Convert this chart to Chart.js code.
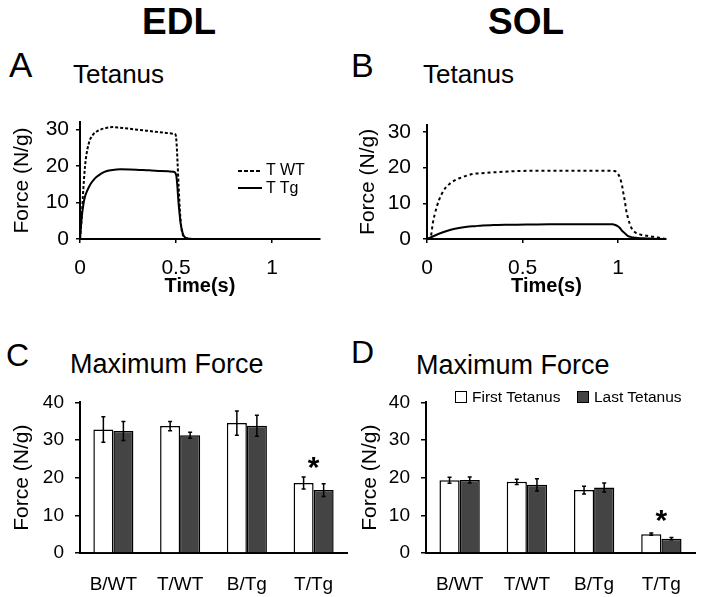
<!DOCTYPE html>
<html>
<head>
<meta charset="utf-8">
<script src="https://cdn.jsdelivr.net/npm/chart.js@4"></script>
<style>
  body { margin: 0; background: #fff; }
  #page { position: relative; width: 704px; height: 597px; overflow: hidden; font-family: 'Liberation Sans', Arial, sans-serif; color: #000; }
  .t { position: absolute; line-height: 1; white-space: nowrap; }
  canvas { position: absolute; }
</style>
</head>
<body>
<div id="page">
  <div class="t" style="left:179px;top:3px;font-size:37px;font-weight:bold;transform:translateX(-50%)">EDL</div>
  <div class="t" style="left:526px;top:3px;font-size:37px;font-weight:bold;transform:translateX(-50%)">SOL</div>

  <div class="t" style="left:9px;top:47px;font-size:35px">A</div>
  <div class="t" style="left:73px;top:61px;font-size:26px">Tetanus</div>
  <div class="t" style="left:351px;top:48px;font-size:34px">B</div>
  <div class="t" style="left:423px;top:61px;font-size:26px">Tetanus</div>
  <div class="t" style="left:6px;top:339px;font-size:32px">C</div>
  <div class="t" style="left:70px;top:351px;font-size:27px">Maximum Force</div>
  <div class="t" style="left:351px;top:336px;font-size:32px">D</div>
  <div class="t" style="left:416px;top:352px;font-size:27px">Maximum Force</div>

  <canvas id="chartA" width="340" height="200" style="left:0;top:100px"></canvas>
  <canvas id="chartB" width="354" height="200" style="left:350px;top:100px"></canvas>
  <canvas id="chartC" width="350" height="217" style="left:0;top:380px"></canvas>
  <canvas id="chartD" width="354" height="217" style="left:350px;top:380px"></canvas>

  <!-- legend, panel A -->
  <svg style="position:absolute;left:238px;top:165px" width="26" height="30">
    <line x1="0" y1="6" x2="24" y2="6" stroke="#000" stroke-width="2" stroke-dasharray="4,2"/>
    <line x1="0" y1="23" x2="24" y2="23" stroke="#000" stroke-width="2"/>
  </svg>
  <div class="t" style="left:266px;top:162px;font-size:16px">T WT</div>
  <div class="t" style="left:266px;top:180px;font-size:16px">T Tg</div>

  <!-- legend, panel D -->
  <div style="position:absolute;left:455px;top:391px;width:10px;height:10px;border:1.5px solid #000;background:#fff"></div>
  <div class="t" style="left:472px;top:389px;font-size:15.5px">First Tetanus</div>
  <div style="position:absolute;left:577px;top:391px;width:10px;height:10px;border:1.5px solid #000;background:#444"></div>
  <div class="t" style="left:594px;top:389px;font-size:15.5px">Last Tetanus</div>
</div>

<script>
Chart.defaults.font.family = "'Liberation Sans', Arial, sans-serif";
Chart.defaults.color = '#000';

// ---- tetanus traces (time in s, force in N/g) ----
const edlTimeWT = [0, 0.009, 0.017, 0.026, 0.035, 0.045, 0.055, 0.07, 0.087, 0.11, 0.14, 0.17, 0.2, 0.25, 0.3, 0.35, 0.4, 0.45, 0.486, 0.498, 0.503, 0.508, 0.514, 0.52, 0.526, 0.532, 0.54, 0.55, 0.6, 0.8, 1.0, 1.25];
const edlForceWT = [0, 6, 13.4, 19.8, 23.5, 26, 27.5, 28.7, 29.4, 30, 30.4, 30.6, 30.5, 30.2, 29.9, 29.6, 29.3, 29.0, 28.8, 28.5, 26.2, 21, 14, 8, 4, 1.8, 0.6, 0.2, 0, 0, 0, 0];
const edlTimeTg = [0, 0.005, 0.009, 0.017, 0.026, 0.04, 0.052, 0.07, 0.087, 0.11, 0.14, 0.17, 0.21, 0.26, 0.31, 0.36, 0.42, 0.46, 0.486, 0.496, 0.502, 0.507, 0.512, 0.518, 0.524, 0.531, 0.538, 0.546, 0.556, 0.58, 0.8, 1.0, 1.25];
const edlForceTg = [0, 3.5, 6, 9.2, 11.6, 13.5, 14.8, 16.1, 17, 17.9, 18.6, 18.9, 19.05, 19.0, 18.9, 18.8, 18.6, 18.5, 18.4, 18.1, 17.2, 14.5, 10.7, 7.2, 4.3, 2.4, 1.1, 0.5, 0.2, 0, 0, 0, 0];

const solTimeWT = [0, 0.02, 0.03, 0.04, 0.05, 0.062, 0.075, 0.095, 0.12, 0.145, 0.17, 0.2, 0.24, 0.28, 0.33, 0.4, 0.47, 0.6, 0.75, 0.9, 0.98, 0.995, 1.01, 1.02, 1.028, 1.035, 1.042, 1.05, 1.06, 1.07, 1.09, 1.12, 1.15, 1.17, 1.2, 1.22, 1.25];
const solForceWT = [0, 0.7, 4.3, 6.8, 8.8, 10.8, 12.4, 14.2, 15.5, 16.4, 17, 17.6, 18.2, 18.4, 18.6, 18.8, 19.0, 19.1, 19.1, 19.1, 19.0, 18.5, 17, 15, 12.5, 10.5, 8, 6.1, 4.3, 3, 1.8, 1.2, 0.9, 0.7, 0.5, 0.3, 0];
const solTimeTg = [0, 0.03, 0.05, 0.08, 0.12, 0.16, 0.21, 0.25, 0.29, 0.35, 0.41, 0.47, 0.55, 0.64, 0.8, 0.97, 0.985, 1.0, 1.01, 1.02, 1.035, 1.05, 1.065, 1.08, 1.1, 1.13, 1.18, 1.25];
const solForceTg = [0, 0.7, 1.2, 1.8, 2.5, 3.0, 3.4, 3.6, 3.8, 3.9, 4.0, 4.0, 4.05, 4.1, 4.1, 4.1, 3.9, 3.5, 3.0, 2.3, 1.6, 0.9, 0.6, 0.4, 0.3, 0.2, 0.1, 0];

const timeTicks = [0, 0.5, 1];
const traceForceTicks = [0, 10, 20, 30];

// ---- maximum force bars ----
const groups = ['B/WT', 'T/WT', 'B/Tg', 'T/Tg'];
const edlFirst = [32.8, 33.7, 34.5, 18.6];
const edlFirstErr = [3.4, 1.2, 3.2, 1.6];
const edlLast = [32.4, 31.3, 33.8, 16.7];
const edlLastErr = [2.5, 0.8, 2.8, 1.7];
const solFirst = [19.3, 18.9, 16.7, 5.0];
const solFirstErr = [0.8, 0.7, 1.0, 0.3];
const solLast = [19.4, 18.1, 17.4, 3.8];
const solLastErr = [0.8, 1.6, 1.2, 0.3];
const barForceTicks = [0, 10, 20, 30, 40];

function toPoints(xs, ys) {
    return xs.map((x, i) => ({ x: x, y: ys[i] }));
}

const axisLine = { display: true, color: '#000', width: 2 };

// error bars + significance star
const errorBars = {
    id: 'errorBars',
    afterDatasetsDraw(chart, args, opts) {
        const ctx = chart.ctx;
        const y = chart.scales.y;
        ctx.save();
        ctx.strokeStyle = '#000';
        ctx.lineWidth = 1.5;
        chart.data.datasets.forEach((ds, di) => {
            const meta = chart.getDatasetMeta(di);
            meta.data.forEach((bar, i) => {
                const v = ds.data[i], e = ds.errors[i];
                const top = y.getPixelForValue(v + e);
                const bot = y.getPixelForValue(v - e);
                ctx.beginPath();
                ctx.moveTo(bar.x, top);
                ctx.lineTo(bar.x, bot);
                ctx.moveTo(bar.x - 2, top);
                ctx.lineTo(bar.x + 2, top);
                ctx.moveTo(bar.x - 2, bot);
                ctx.lineTo(bar.x + 2, bot);
                ctx.stroke();
            });
        });
        if (opts.starIndex != null) {
            ctx.fillStyle = '#000';
            ctx.font = "bold 30px 'Liberation Sans', Arial, sans-serif";
            ctx.textAlign = 'center';
            ctx.textBaseline = 'alphabetic';
            ctx.fillText('*', chart.scales.x.getPixelForValue(opts.starIndex), y.getPixelForValue(opts.starAt));
        }
        ctx.restore();
    }
};

function traceChart(id, wt, tg, yWidth, yTitlePad, tickPad, padRight, dash) {
    return new Chart(document.getElementById(id), {
        type: 'line',
        data: {
            datasets: [
                { label: 'T WT', data: wt, borderColor: '#000', borderWidth: 2, borderDash: dash, pointRadius: 0, cubicInterpolationMode: 'monotone', clip: 4 },
                { label: 'T Tg', data: tg, borderColor: '#000', borderWidth: 2, pointRadius: 0, cubicInterpolationMode: 'monotone', clip: 4 }
            ]
        },
        options: {
            responsive: false,
            animation: false,
            devicePixelRatio: 1,
            layout: { padding: { top: 22, right: padRight, left: 0, bottom: 0 } },
            plugins: { legend: { display: false }, tooltip: { enabled: false } },
            scales: {
                x: {
                    type: 'linear',
                    min: 0,
                    max: 1.25,
                    afterBuildTicks: axis => { axis.ticks = timeTicks.map(v => ({ value: v })); },
                    afterFit: s => { s.height = 61; },
                    grid: { drawOnChartArea: false, tickLength: 4, color: '#000', lineWidth: 1.5 },
                    border: axisLine,
                    ticks: { font: { size: 21 }, padding: 13, maxRotation: 0, callback: v => String(v) },
                    title: { display: true, text: 'Time(s)', font: { size: 20, weight: 'bold' }, padding: { top: 0, bottom: 2 } }
                },
                y: {
                    min: 0,
                    max: 32,
                    afterBuildTicks: axis => { axis.ticks = traceForceTicks.map(v => ({ value: v })); },
                    afterFit: s => { s.width = yWidth; },
                    grid: { drawOnChartArea: false, tickLength: 4, color: '#000', lineWidth: 1.5 },
                    border: axisLine,
                    ticks: { font: { size: 21 }, padding: tickPad },
                    title: { display: true, text: 'Force (N/g)', font: { size: 21 }, padding: { top: yTitlePad, bottom: 0 } }
                }
            }
        }
    });
}

function barChart(id, first, firstErr, last, lastErr, yWidth, yTitlePad, padRight, starAt) {
    return new Chart(document.getElementById(id), {
        type: 'bar',
        data: {
            labels: groups,
            datasets: [
                { label: 'First Tetanus', data: first, errors: firstErr, backgroundColor: '#fff', borderColor: '#000', borderWidth: 1.5, barPercentage: 1, categoryPercentage: 0.6 },
                { label: 'Last Tetanus', data: last, errors: lastErr, backgroundColor: '#444', borderColor: '#000', borderWidth: 1.5, barPercentage: 1, categoryPercentage: 0.6 }
            ]
        },
        options: {
            responsive: false,
            animation: false,
            devicePixelRatio: 1,
            layout: { padding: { top: 16, right: padRight, left: 0, bottom: 0 } },
            plugins: {
                legend: { display: false },
                tooltip: { enabled: false },
                errorBars: { starIndex: 3, starAt: starAt }
            },
            scales: {
                x: {
                    afterFit: s => { s.height = 44; },
                    grid: { display: false },
                    border: axisLine,
                    ticks: { font: { size: 19 }, padding: 12 }
                },
                y: {
                    min: 0,
                    max: 40,
                    afterBuildTicks: axis => { axis.ticks = barForceTicks.map(v => ({ value: v })); },
                    afterFit: s => { s.width = yWidth; },
                    grid: { drawOnChartArea: false, tickLength: 5, color: '#000', lineWidth: 1.5 },
                    border: axisLine,
                    ticks: { font: { size: 19 }, padding: 11 },
                    title: { display: true, text: 'Force (N/g)', font: { size: 21 }, padding: { top: yTitlePad, bottom: 0 } }
                }
            }
        },
        plugins: [errorBars]
    });
}

traceChart('chartA', toPoints(edlTimeWT, edlForceWT), toPoints(edlTimeTg, edlForceTg), 80, 10, 7, 20, [3, 2]);
traceChart('chartB', toPoints(solTimeWT, solForceWT), toPoints(solTimeTg, solForceTg), 77, 6, 12, 38, [3, 3]);
barChart('chartC', edlFirst, edlFirstErr, edlLast, edlLastErr, 80, 10, 3, 20.3);
barChart('chartD', solFirst, solFirstErr, solLast, solLastErr, 76, 8, 9, 6.0);
</script>
</body>
</html>
